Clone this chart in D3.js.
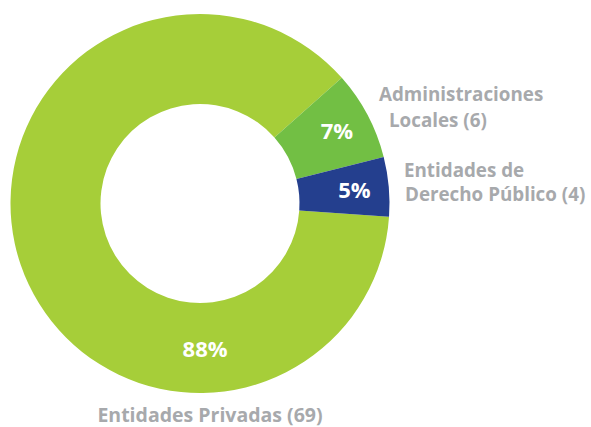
<!DOCTYPE html>
<html>
<head>
<meta charset="utf-8">
<script src="https://cdn.jsdelivr.net/npm/d3@7"></script>
<style>
  html, body { margin: 0; padding: 0; background: #fff; }
  text { font-family: "Open Sans", sans-serif; font-weight: 700; }
</style>
</head>
<body>
<script>
const categories = ["Entidades Privadas", "Administraciones Locales", "Entidades de Derecho Público"];
const counts = [69, 6, 4];
const percents = ["88%", "7%", "5%"];
const labelLines = [["Entidades Privadas (69)"], ["Administraciones", "Locales (6)"], ["Entidades de", "Derecho Público (4)"]];
const colors = ["#a6ce39", "#72bf44", "#243f8e"];

const width = 591, height = 427;
const cx = 200, cy = 203.5;
const outerR = 189.5, innerR = 99.5;

const svg = d3.select("body").append("svg")
  .attr("width", width)
  .attr("height", height);

const data = categories.map((c, i) => ({name: c, value: counts[i], pct: percents[i], lines: labelLines[i], color: colors[i]}));

const start = 94 * Math.PI / 180;
const pie = d3.pie().sort(null).value(d => d.value)
  .startAngle(start).endAngle(start + 2 * Math.PI);
const arcs = pie(data);

const arc = d3.arc().innerRadius(innerR).outerRadius(outerR);

const g = svg.append("g").attr("transform", `translate(${cx},${cy})`);

g.selectAll("path")
  .data(arcs)
  .enter()
  .append("path")
  .attr("d", arc)
  .attr("fill", d => d.data.color);

// percent labels: small slices at their middle, big one sits at the bottom
const pctPos = (d, i) => {
  const a = i === 0 ? 178 * Math.PI / 180 : (d.startAngle + d.endAngle) / 2;
  const r = i === 0 ? 146 : 155;
  return [r * Math.sin(a), -r * Math.cos(a)];
};

g.selectAll("text.pct")
  .data(arcs)
  .enter()
  .append("text")
  .attr("class", "pct")
  .attr("x", (d, i) => pctPos(d, i)[0])
  .attr("y", (d, i) => pctPos(d, i)[1])
  .attr("dy", "0.36em")
  .attr("text-anchor", "middle")
  .attr("fill", "#fff")
  .style("font-size", "22px")
  .text(d => d.data.pct);

// category labels
const labelSpots = [
  [{x: 210, y: 422, anchor: "middle", size: 19.5}],
  [{x: 379, y: 101, anchor: "start", size: 18.8}, {x: 389, y: 127, anchor: "start", size: 18.8}],
  [{x: 404, y: 177, anchor: "start", size: 18.8}, {x: 405, y: 201, anchor: "start", size: 18.8}]
];

data.forEach((d, i) => {
  d.lines.forEach((line, j) => {
    const s = labelSpots[i][j];
    svg.append("text")
      .attr("x", s.x)
      .attr("y", s.y)
      .attr("text-anchor", s.anchor)
      .attr("fill", "#a7a9ac")
      .style("font-size", s.size + "px")
      .text(line);
  });
});
</script>
</body>
</html>
